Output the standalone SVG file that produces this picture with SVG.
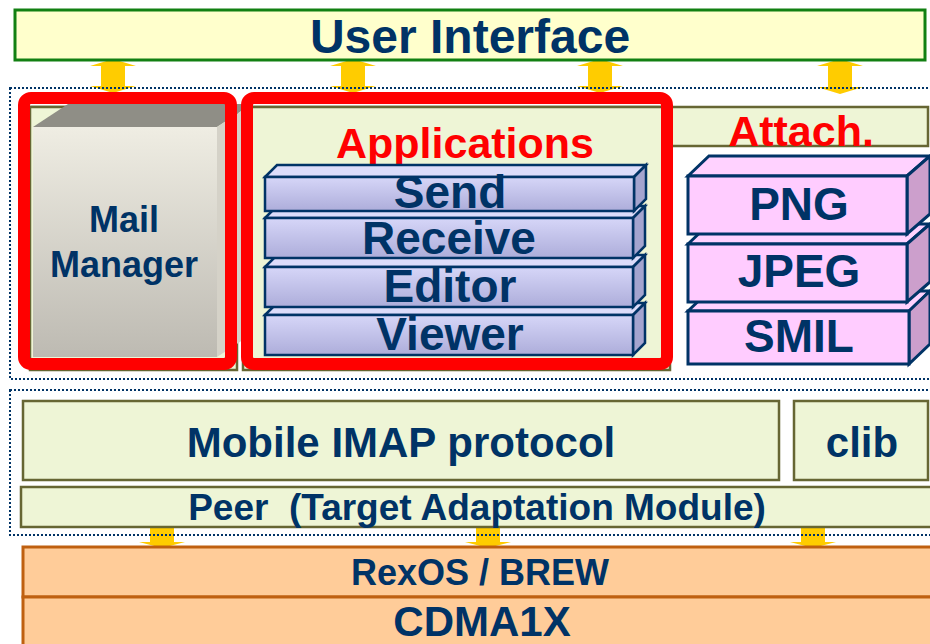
<svg xmlns="http://www.w3.org/2000/svg" width="930" height="644" viewBox="0 0 930 644">
<style>
text{font-family:"Liberation Sans",Arial,sans-serif;font-weight:bold;fill:#003366;text-anchor:middle}
.red{fill:#FF0000}
.arrow{fill:#FFCC00}
.dot{fill:none;stroke:#003366;stroke-width:2;stroke-dasharray:2 2}
.grn{fill:#EEF5D6;stroke:#666633;stroke-width:2.5}
.rb{fill:none;stroke:#FF0000;stroke-width:12}
.slab .front{fill:url(#gBlue);stroke:#003366;stroke-width:2.5}
.slab .top{fill:#DCDCFA;stroke:#003366;stroke-width:2.5}
.slab .side{fill:#A4A4CF;stroke:#003366;stroke-width:2.5}
.pslab .front{fill:#FFCCFF;stroke:#003366;stroke-width:3}
.pslab .top{fill:#FFD2FF;stroke:#003366;stroke-width:3}
.pslab .side{fill:#CC9FCC;stroke:#003366;stroke-width:3}
.os{fill:#FFCC99;stroke:#BF6010;stroke-width:3}
</style>
<defs>
<linearGradient id="gBlue" x1="0" y1="0" x2="0" y2="1">
<stop offset="0" stop-color="#D6D6F8"/><stop offset="1" stop-color="#ADADDA"/>
</linearGradient>
<linearGradient id="gMail" x1="0" y1="0" x2="0" y2="1">
<stop offset="0" stop-color="#EFEDE3"/><stop offset="1" stop-color="#BDBAB2"/>
</linearGradient>
</defs>

<g id="connectors">
<polygon class="arrow" points="113,59 136,66 125,66 125,86 136,86 113,93 90,86 101,86 101,66 90,66"/>
<polygon class="arrow" points="353,59 376,66 365,66 365,86 376,86 353,93 330,86 341,86 341,66 330,66"/>
<polygon class="arrow" points="600,59 623,66 612,66 612,86 623,86 600,93 577,86 588,86 588,66 577,66"/>
<polygon class="arrow" points="840,59 863,66 852,66 852,87 863,87 840,94 817,87 828,87 828,66 817,66"/>
<polygon class="arrow" points="150,527 174,527 174,542 185,542 162,548 139,542 150,542"/>
<polygon class="arrow" points="476,527 500,527 500,542 511,542 488,548 465,542 476,542"/>
<polygon class="arrow" points="801,527 825,527 825,542 836,542 813,548 790,542 801,542"/>
</g>

<g id="user-interface">
<rect x="15" y="10" width="910" height="50" fill="#FFFFCC" stroke="#128012" stroke-width="3"/>
<text x="470" y="53" font-size="48">User Interface</text>
</g>

<g id="layer-frames">
<rect class="dot" x="10" y="88" width="930" height="291"/>
<rect class="dot" x="10" y="390" width="930" height="145"/>
<rect class="grn" x="30" y="107" width="898" height="39"/>
<rect class="grn" x="30" y="107" width="207" height="263"/>
<rect class="grn" x="243" y="107" width="427" height="263"/>
</g>

<g id="mail-manager">
<polygon points="33,127 68,104 252,104 217,127" fill="#8F8E86"/>
<polygon points="217,127 252,104 252,334 217,357" fill="#D5D2C8"/>
<rect x="33" y="127" width="184" height="230" fill="url(#gMail)"/>
<rect class="rb" x="24" y="98" width="207" height="266" rx="7"/>
<text x="124" y="232" font-size="36">Mail</text>
<text x="124" y="277" font-size="36">Manager</text>
</g>

<g id="applications">
<rect class="rb" x="247" y="98" width="420" height="266" rx="7"/>
<text class="red" x="465" y="158" font-size="43">Applications</text>
</g>

<g id="attach">
<text class="red" x="801" y="146" font-size="43">Attach.</text>
</g>

<g id="viewer" class="slab">
<polygon class="top" points="265,315 277,303 645,303 633,315"/>
<polygon class="side" points="633,315 645,303 645,343 633,355"/>
<rect class="front" x="265" y="315" width="368" height="40"/>
<text x="450" y="350" font-size="46">Viewer</text>
</g>
<g id="editor" class="slab">
<polygon class="top" points="265,267 277,255 645,255 633,267"/>
<polygon class="side" points="633,267 645,255 645,295 633,307"/>
<rect class="front" x="265" y="267" width="368" height="40"/>
<text x="450" y="302" font-size="46">Editor</text>
</g>
<g id="receive" class="slab">
<polygon class="top" points="265,218 277,206 645,206 633,218"/>
<polygon class="side" points="633,218 645,206 645,246 633,258"/>
<rect class="front" x="265" y="218" width="368" height="40"/>
<text x="449" y="254" font-size="46">Receive</text>
</g>
<g id="send" class="slab">
<polygon class="top" points="265,177 277,165 646,165 634,177"/>
<polygon class="side" points="634,177 646,165 646,199 634,211"/>
<rect class="front" x="265" y="177" width="369" height="34"/>
<text x="450" y="208" font-size="46">Send</text>
</g>

<g id="smil" class="pslab">
<polygon class="top" points="688,311 709,291 930,291 909,311"/>
<polygon class="side" points="909,311 930,291 930,344 909,364"/>
<rect class="front" x="688" y="311" width="221" height="53"/>
<text x="799" y="352" font-size="46">SMIL</text>
</g>
<g id="jpeg" class="pslab">
<polygon class="top" points="688,244 709,224 930,224 907,244"/>
<polygon class="side" points="907,244 930,224 930,282 907,302"/>
<rect class="front" x="688" y="244" width="219" height="58"/>
<text x="799" y="287" font-size="46">JPEG</text>
</g>
<g id="png" class="pslab">
<polygon class="top" points="688,176 709,156 930,156 907,176"/>
<polygon class="side" points="907,176 930,156 930,214 907,234"/>
<rect class="front" x="688" y="176" width="219" height="58"/>
<text x="799" y="220" font-size="46">PNG</text>
</g>

<g id="mobile-imap">
<rect class="grn" x="23" y="401" width="756" height="79"/>
<text x="401" y="457" font-size="42">Mobile IMAP protocol</text>
</g>
<g id="clib">
<rect class="grn" x="794" y="401" width="134" height="79"/>
<text x="862" y="457" font-size="42">clib</text>
</g>
<g id="peer">
<rect class="grn" x="21" y="487" width="912" height="40"/>
<text x="477" y="520" font-size="37" xml:space="preserve">Peer  (Target Adaptation Module)</text>
</g>

<g id="rexos">
<rect class="os" x="23" y="547" width="912" height="50"/>
<text x="480" y="585" font-size="36">RexOS / BREW</text>
</g>
<g id="cdma">
<rect class="os" x="23" y="597" width="912" height="52"/>
<text x="482" y="636" font-size="42">CDMA1X</text>
</g>
</svg>
